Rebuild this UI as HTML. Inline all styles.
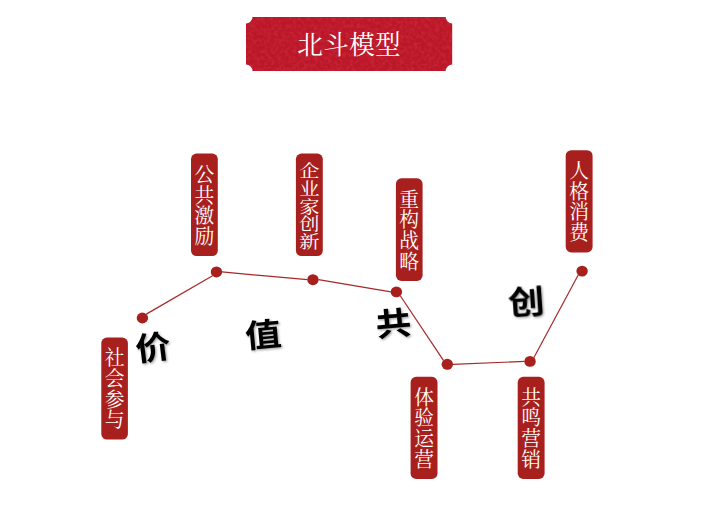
<!DOCTYPE html>
<html lang="zh-CN"><head><meta charset="utf-8"><title>北斗模型</title>
<style>
html,body{margin:0;padding:0;background:#fff;}
body{width:725px;height:509px;position:relative;overflow:hidden;font-family:"Liberation Sans",sans-serif;}
.t{position:absolute;color:transparent;overflow:hidden;line-height:1.02;text-align:center;}
.t.v{word-break:break-all;display:flex;align-items:center;justify-content:center;}
.t.h{line-height:54px;letter-spacing:1px;}
.t.b{font-weight:bold;line-height:32px;}
</style></head><body>
<svg width="725" height="509" viewBox="0 0 725 509" style="position:absolute;left:0;top:0">
<defs><filter id="sh" x="-20%" y="-20%" width="150%" height="150%"><feDropShadow dx="1.2" dy="1.2" stdDeviation="1" flood-color="#000" flood-opacity="0.38"/></filter><filter id="tx" x="0" y="0" width="100%" height="100%" color-interpolation-filters="sRGB"><feTurbulence type="fractalNoise" baseFrequency="0.28" numOctaves="2" seed="7" result="n"/><feColorMatrix in="n" type="matrix" values="0 0 0 0 1  0 0 0 0 0.55  0 0 0 0 0.55  0.32 0 0 0 -0.125"/><feComposite in2="SourceGraphic" operator="in"/></filter></defs>
<path d="M252.5 17 H445.7 A6.5 6.5 0 0 0 452.2 23.5 V64.5 A6.5 6.5 0 0 0 445.7 71 H252.5 A6.5 6.5 0 0 0 246 64.5 V23.5 A6.5 6.5 0 0 0 252.5 17 Z" fill="#BC1729"/>
<path d="M252.5 17 H445.7 A6.5 6.5 0 0 0 452.2 23.5 V64.5 A6.5 6.5 0 0 0 445.7 71 H252.5 A6.5 6.5 0 0 0 246 64.5 V23.5 A6.5 6.5 0 0 0 252.5 17 Z" fill="#fff" filter="url(#tx)"/>
<text x="297.35 323.25 349.15 375.05" y="53.73" font-size="25.6" fill="#fff" font-family="'Liberation Serif','Noto Serif CJK SC',serif">北斗模型</text>
<line x1="146.29" y1="314.11" x2="212.56" y2="275.84" stroke="#A62828" stroke-width="1.2"/>
<line x1="221.95" y1="271.95" x2="307.45" y2="279.70" stroke="#A62828" stroke-width="1.2"/>
<line x1="318.45" y1="279.70" x2="390.90" y2="291.90" stroke="#A62828" stroke-width="1.2"/>
<line x1="400.29" y1="295.79" x2="443.41" y2="360.41" stroke="#A62828" stroke-width="1.2"/>
<line x1="452.80" y1="364.30" x2="524.55" y2="361.40" stroke="#A62828" stroke-width="1.2"/>
<line x1="533.94" y1="357.51" x2="578.21" y2="274.99" stroke="#A62828" stroke-width="1.2"/>
<ellipse cx="142.4" cy="318.0" rx="5.7" ry="5.45" fill="#A7201E"/>
<ellipse cx="216.45" cy="271.95" rx="5.7" ry="5.45" fill="#A7201E"/>
<ellipse cx="312.95" cy="279.7" rx="5.7" ry="5.45" fill="#A7201E"/>
<ellipse cx="396.4" cy="291.9" rx="5.7" ry="5.45" fill="#A7201E"/>
<ellipse cx="447.3" cy="364.3" rx="5.7" ry="5.45" fill="#A7201E"/>
<ellipse cx="530.05" cy="361.4" rx="5.7" ry="5.45" fill="#A7201E"/>
<ellipse cx="582.1" cy="271.1" rx="5.7" ry="5.45" fill="#A7201E"/>
<rect x="191.0" y="153.6" width="26.80000000000001" height="102.50000000000003" rx="5.6" ry="5.6" fill="#A7201E"/>
<text transform="translate(194.5 0) scale(0.966 1)" x="0 0 0 0" y="181.99 202.69 223.39 244.09" font-size="20.5" fill="#fff" font-family="'Liberation Serif','Noto Serif CJK SC',serif">公共激励</text>
<rect x="295.9" y="153.6" width="26.900000000000034" height="102.50000000000003" rx="5.6" ry="5.6" fill="#A7201E"/>
<text transform="translate(299.2 0) scale(1.153 1)" x="0 0 0 0 0" y="176.94 194.74 212.54 230.34 248.14" font-size="17.6" fill="#fff" font-family="'Liberation Serif','Noto Serif CJK SC',serif">企业家创新</text>
<rect x="395.9" y="178.3" width="26.700000000000045" height="102.59999999999997" rx="5.6" ry="5.6" fill="#A7201E"/>
<text transform="translate(399.35 0) scale(0.966 1)" x="0 0 0 0" y="206.54 227.24 247.94 268.64" font-size="20.5" fill="#fff" font-family="'Liberation Serif','Noto Serif CJK SC',serif">重构战略</text>
<rect x="565.7" y="150.2" width="26.899999999999977" height="102.20000000000002" rx="5.6" ry="5.6" fill="#A7201E"/>
<text transform="translate(569.25 0) scale(0.966 1)" x="0 0 0 0" y="178.04 198.74 219.44 240.14" font-size="20.5" fill="#fff" font-family="'Liberation Serif','Noto Serif CJK SC',serif">人格消费</text>
<rect x="101.3" y="337.5" width="26.60000000000001" height="102.10000000000002" rx="5.6" ry="5.6" fill="#A7201E"/>
<text transform="translate(104.7 0) scale(0.966 1)" x="0 0 0 0" y="365.29 385.99 406.69 427.39" font-size="20.5" fill="#fff" font-family="'Liberation Serif','Noto Serif CJK SC',serif">社会参与</text>
<rect x="410.6" y="376.8" width="26.899999999999977" height="102.19999999999999" rx="5.6" ry="5.6" fill="#A7201E"/>
<text transform="translate(414.15 0) scale(0.966 1)" x="0 0 0 0" y="404.64 425.34 446.04 466.74" font-size="20.5" fill="#fff" font-family="'Liberation Serif','Noto Serif CJK SC',serif">体验运营</text>
<rect x="517.7" y="376.8" width="26.899999999999977" height="102.09999999999997" rx="5.6" ry="5.6" fill="#A7201E"/>
<text transform="translate(521.25 0) scale(0.966 1)" x="0 0 0 0" y="404.59 425.29 445.99 466.69" font-size="20.5" fill="#fff" font-family="'Liberation Serif','Noto Serif CJK SC',serif">共鸣营销</text>
<g filter="url(#sh)">
<text transform="translate(153.00 347.10) rotate(-7) scale(1.1 1)" x="0" y="12.06" text-anchor="middle" font-size="32" font-weight="bold" fill="#000" font-family="'Liberation Sans','Noto Sans CJK SC',sans-serif">价</text>
<text transform="translate(263.10 334.20) rotate(-5.2) scale(1.13 1)" x="0" y="12.14" text-anchor="middle" font-size="32" font-weight="bold" fill="#000" font-family="'Liberation Sans','Noto Sans CJK SC',sans-serif">值</text>
<text transform="translate(393.30 323.30) rotate(-5) scale(1.11 1)" x="0" y="12.02" text-anchor="middle" font-size="32" font-weight="bold" fill="#000" font-family="'Liberation Sans','Noto Sans CJK SC',sans-serif">共</text>
<text transform="translate(526.10 301.30) rotate(-4) scale(1.14 1)" x="0" y="12.2" text-anchor="middle" font-size="32" font-weight="bold" fill="#000" font-family="'Liberation Sans','Noto Sans CJK SC',sans-serif">创</text>
</g>
</svg>
<div class="t h" style="left:246px;top:17px;width:206px;height:54px;font-size:25px">北斗模型</div>
<div class="t v" style="left:191px;top:153.6px;width:26.8px;height:102.5px;font-size:20px">公共激励</div>
<div class="t v" style="left:295.9px;top:153.6px;width:26.8px;height:102.5px;font-size:18px">企业家创新</div>
<div class="t v" style="left:395.9px;top:178.3px;width:26.8px;height:102.5px;font-size:20px">重构战略</div>
<div class="t v" style="left:565.7px;top:150.2px;width:26.8px;height:102.5px;font-size:20px">人格消费</div>
<div class="t v" style="left:101.3px;top:337.5px;width:26.8px;height:102.5px;font-size:20px">社会参与</div>
<div class="t v" style="left:410.6px;top:376.8px;width:26.8px;height:102.5px;font-size:20px">体验运营</div>
<div class="t v" style="left:517.7px;top:376.8px;width:26.8px;height:102.5px;font-size:20px">共鸣营销</div>
<div class="t b" style="left:136px;top:332px;width:34px;height:32px;font-size:32px">价</div>
<div class="t b" style="left:246px;top:318px;width:34px;height:32px;font-size:32px">值</div>
<div class="t b" style="left:377px;top:308px;width:34px;height:32px;font-size:32px">共</div>
<div class="t b" style="left:510px;top:286px;width:34px;height:32px;font-size:32px">创</div>
</body></html>
